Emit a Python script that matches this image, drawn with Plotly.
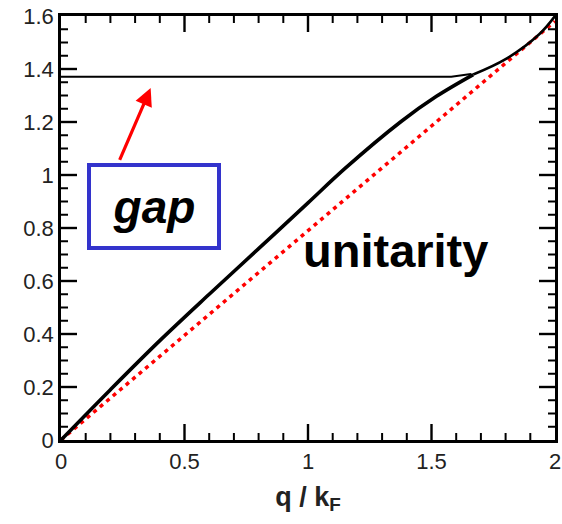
import plotly.graph_objects as go

# data
q_phonon = [0, 0.2, 0.4, 0.6, 0.8, 1.0, 1.15, 1.377, 1.52, 1.669]
w_phonon = [0, 0.19, 0.375, 0.55, 0.722, 0.895, 1.025, 1.202, 1.297, 1.379]

q_upper = [1.669, 1.80, 1.935, 2.0]
w_upper = [1.379, 1.437, 1.53, 1.60]

q_gap = [0, 1.58, 1.66]
w_gap = [1.371, 1.371, 1.381]

q_unit = [0, 2.0]
w_unit = [0, 1.58]

x_ticks = [0, 0.5, 1, 1.5, 2]
x_labels = ["0", "0.5", "1", "1.5", "2"]
y_ticks = [0, 0.2, 0.4, 0.6, 0.8, 1, 1.2, 1.4, 1.6]
y_labels = ["0", "0.2", "0.4", "0.6", "0.8", "1", "1.2", "1.4", "1.6"]
x_minor = [round(0.1 * i, 2) for i in range(21) if i % 5]
y_minor = [round(0.05 * i, 2) for i in range(33) if i % 4]
X_MAX, Y_MAX = 2.0, 1.6

fig = go.Figure()
fig.add_trace(go.Scatter(x=q_unit, y=w_unit, mode="lines",
                         line=dict(color="#ff0000", width=3.5, dash="4px,4.5px")))
fig.add_trace(go.Scatter(x=q_gap, y=w_gap, mode="lines",
                         line=dict(color="black", width=2)))
fig.add_trace(go.Scatter(x=q_upper, y=w_upper, mode="lines", line_shape="spline",
                         line=dict(color="black", width=2.6)))
fig.add_trace(go.Scatter(x=q_phonon, y=w_phonon, mode="lines", line_shape="spline",
                         line=dict(color="black", width=3.6)))

font_family = "Liberation Sans, Arial, sans-serif"
tickfont = dict(family=font_family, size=22, color="#222")

fig.update_layout(
    xaxis=dict(range=[0, X_MAX], tickvals=x_ticks, ticktext=x_labels, ticks="",
               showgrid=False, zeroline=False, ticklabeloverflow="allow",
               showline=True, linewidth=2.5, linecolor="black", mirror=True,
               tickfont=tickfont,
               title=dict(text="<b>q / k<sub>F</sub></b>", standoff=14,
                          font=dict(family=font_family, size=27, color="#222"))),
    yaxis=dict(range=[0, Y_MAX], tickvals=y_ticks, ticktext=y_labels, ticks="",
               showgrid=False, zeroline=False, ticklabeloverflow="allow",
               showline=True, linewidth=2.5, linecolor="black", mirror=True,
               tickfont=tickfont),
)

# inside tick marks on all four sides (drawn as pixel-length shapes at the tick values)
def add_xtick(v, length, width):
    for anchor, sign in ((0, 1), (Y_MAX, -1)):
        fig.add_shape(type="line", xref="x", yref="y", x0=v, x1=v,
                      ysizemode="pixel", yanchor=anchor, y0=0, y1=sign * length,
                      line=dict(color="black", width=width), layer="above")

def add_ytick(v, length, width):
    for anchor, sign in ((0, 1), (X_MAX, -1)):
        fig.add_shape(type="line", xref="x", yref="y", y0=v, y1=v,
                      xsizemode="pixel", xanchor=anchor, x0=0, x1=sign * length,
                      line=dict(color="black", width=width), layer="above")

for v in x_ticks[1:-1]:
    add_xtick(v, 16, 2.4)
for v in x_minor:
    add_xtick(v, 7, 2)
for v in y_ticks[1:-1]:
    add_ytick(v, 16, 2.4)
for v in y_minor:
    add_ytick(v, 7, 2)

fig.add_annotation(x=0.363, y=1.328, ax=0.235, ay=1.051, xref="x", yref="y", axref="x", ayref="y",
                   text="", showarrow=True, arrowhead=2, arrowsize=1.1, arrowwidth=3.2, arrowcolor="#ff0000")
fig.add_annotation(x=0.375, y=0.882, xref="x", yref="y", text="<b><i>gap</i></b>", showarrow=False,
                   width=124, height=77, bordercolor="#3333cc", borderwidth=4, bgcolor="white",
                   font=dict(family=font_family, size=46, color="black"))
fig.add_annotation(x=1.356, y=0.715, xref="x", yref="y", text="<b>unitarity</b>", showarrow=False,
                   font=dict(family=font_family, size=47, color="black"))

fig.update_layout(width=562, height=524, showlegend=False,
                  margin=dict(l=61, r=1, t=16, b=84),
                  paper_bgcolor="white", plot_bgcolor="white")
fig.write_html("out.html")
